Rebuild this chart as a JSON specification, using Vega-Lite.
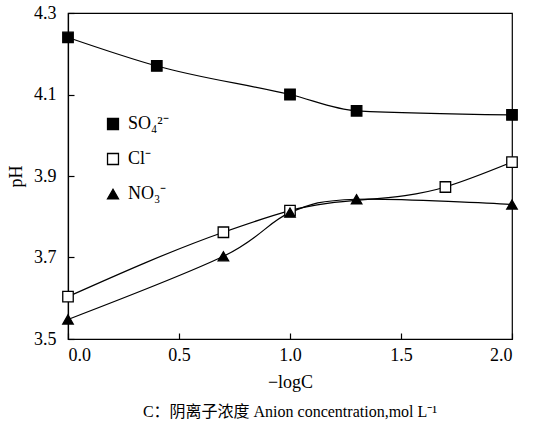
{
  "$schema": "https://vega.github.io/schema/vega-lite/v6.json",
  "width": 444,
  "height": 326,
  "autosize": {"type": "none"},
  "padding": {"left": 68, "top": 13, "right": 23, "bottom": 89},
  "background": "white",
  "config": {
    "font": "Liberation Serif",
    "view": {"stroke": "black", "strokeWidth": 1.2},
    "axis": {
      "domainColor": "black", "domainWidth": 1.2, "tickColor": "black", "tickWidth": 1.2,
      "labelColor": "black", "titleColor": "black", "labelFont": "Liberation Serif",
      "titleFont": "Liberation Serif", "labelFontSize": 18, "titleFontSize": 18,
      "titleFontWeight": "normal", "grid": false
    },
    "legend": {
      "labelFontSize": 18, "labelFont": "Liberation Serif", "labelColor": "black",
      "symbolStrokeColor": "black", "symbolStrokeWidth": 1.3, "symbolSize": 120
    }
  },
  "title": {
    "text": "C：阴离子浓度 Anion concentration,mol L⁻¹",
    "orient": "bottom",
    "font": "Liberation Serif, Noto Sans CJK SC",
    "fontSize": 16,
    "fontWeight": "normal",
    "color": "black",
    "offset": 13,
    "anchor": "middle"
  },
  "data": {
    "values": [
      {"ion": "SO₄²⁻", "x": 0.0, "pH": 4.24},
      {"ion": "SO₄²⁻", "x": 0.4, "pH": 4.17},
      {"ion": "SO₄²⁻", "x": 1.0, "pH": 4.10},
      {"ion": "SO₄²⁻", "x": 1.3, "pH": 4.06},
      {"ion": "SO₄²⁻", "x": 2.0, "pH": 4.05},
      {"ion": "Cl⁻", "x": 0.0, "pH": 3.604},
      {"ion": "Cl⁻", "x": 0.7, "pH": 3.762},
      {"ion": "Cl⁻", "x": 1.0, "pH": 3.815},
      {"ion": "Cl⁻", "x": 1.7, "pH": 3.873},
      {"ion": "Cl⁻", "x": 2.0, "pH": 3.934},
      {"ion": "NO₃⁻", "x": 0.0, "pH": 3.548},
      {"ion": "NO₃⁻", "x": 0.7, "pH": 3.703},
      {"ion": "NO₃⁻", "x": 1.0, "pH": 3.81},
      {"ion": "NO₃⁻", "x": 1.3, "pH": 3.843},
      {"ion": "NO₃⁻", "x": 2.0, "pH": 3.83}
    ]
  },
  "layer": [
    {
      "transform": [{"filter": "datum.ion !== 'NO₃⁻'"}],
      "mark": {"type": "line", "interpolate": "monotone", "color": "black", "strokeWidth": 1.2},
      "encoding": {
        "x": {"field": "x", "type": "quantitative"},
        "y": {"field": "pH", "type": "quantitative"},
        "detail": {"field": "ion"}
      }
    },
    {
      "transform": [{"filter": "datum.ion === 'NO₃⁻'"}],
      "mark": {"type": "line", "interpolate": "cardinal", "tension": 0, "color": "black", "strokeWidth": 1.2},
      "encoding": {
        "x": {"field": "x", "type": "quantitative"},
        "y": {"field": "pH", "type": "quantitative"}
      }
    },
    {
      "mark": {"type": "point", "strokeWidth": 1.3, "opacity": 1, "size": 110},
      "encoding": {
        "x": {
          "field": "x", "type": "quantitative",
          "scale": {"domain": [0, 2], "nice": false, "zero": false},
          "axis": {"values": [0, 0.5, 1, 1.5, 2], "format": ".1f", "tickSize": -6, "labelPadding": 13, "title": "−logC", "titlePadding": 9}
        },
        "y": {
          "field": "pH", "type": "quantitative",
          "scale": {"domain": [3.5, 4.3], "nice": false, "zero": false},
          "axis": {"values": [3.5, 3.7, 3.9, 4.1, 4.3], "format": ".1f", "tickSize": -6, "labelPadding": 18, "title": "pH", "titlePadding": 8}
        },
        "shape": {
          "field": "ion", "type": "nominal",
          "scale": {"domain": ["SO₄²⁻", "Cl⁻", "NO₃⁻"], "range": ["square", "square", "triangle-up"]},
          "legend": {"title": null, "orient": "none", "legendX": 36, "legendY": 102, "rowPadding": 17, "padding": 0, "labelOffset": 6}
        },
        "fill": {
          "field": "ion", "type": "nominal",
          "scale": {"domain": ["SO₄²⁻", "Cl⁻", "NO₃⁻"], "range": ["black", "white", "black"]},
          "legend": {"title": null, "orient": "none", "legendX": 36, "legendY": 102, "rowPadding": 17, "padding": 0, "labelOffset": 6}
        },
        "stroke": {
          "field": "ion", "type": "nominal",
          "scale": {"domain": ["SO₄²⁻", "Cl⁻", "NO₃⁻"], "range": ["black", "black", "black"]},
          "legend": {"title": null, "orient": "none", "legendX": 36, "legendY": 102, "rowPadding": 17, "padding": 0, "labelOffset": 6}
        }
      }
    }
  ]
}
